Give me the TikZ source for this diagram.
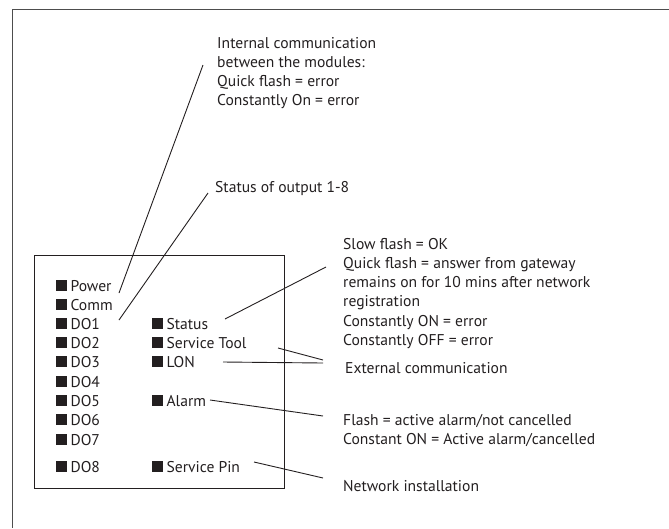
\documentclass[tikz,border=0pt]{standalone}
\usepackage{fontspec}
\setmainfont{PT Sans}
\definecolor{ink}{HTML}{231F20}
\definecolor{frame}{HTML}{4D4D4D}
\tikzset{
  lbl/.style={anchor=base west, inner sep=0pt, text=ink, align=left,
    font=\fontsize{15.6}{19.25}\selectfont},
  led/.style={lbl},
  conn/.style={draw=ink, line width=0.9pt},
}
\newcommand{\ledsq}{\rule{10.8pt}{10.8pt}\hspace{3.6pt}}
\begin{document}
\begin{tikzpicture}[x=1pt,y=-1pt]
\useasboundingbox (0,0) rectangle (669,528);
% outer frame (cropped)
\draw[frame, line width=1.5pt] (669,9.3) -- (12.7,9.3) -- (12.7,528);
% module box
\node[draw=ink, line width=1.2pt, minimum width=250pt, minimum height=233pt, inner sep=0pt, anchor=north west] (box) at (34,255) {};
% left column
\node[led] (power) at (56,291) {\ledsq Power};
\node[led] (comm) at (56,310) {\ledsq Comm};
\node[led] (do1) at (56,329) {\ledsq DO1};
\node[led] (do2) at (56,348) {\ledsq DO2};
\node[led] (do3) at (56,367) {\ledsq DO3};
\node[led] (do4) at (56,387) {\ledsq DO4};
\node[led] (do5) at (56,406) {\ledsq DO5};
\node[led] (do6) at (56,425) {\ledsq DO6};
\node[led] (do7) at (56,445) {\ledsq DO7};
\node[led] (do8) at (56,472) {\ledsq DO8};
% right column
\node[led] (status) at (152,329) {\ledsq Status};
\node[led] (stool) at (152,348) {\ledsq Service Tool};
\node[led] (lon) at (152,367) {\ledsq LON};
\node[led] (alarm) at (152,406) {\ledsq Alarm};
\node[led] (spin) at (152,472) {\ledsq Service Pin};
% descriptions (base anchor = last line)
\node[lbl] (intc) at (217,105.75) {Internal communication\\between the modules:\\Quick flash = error\\Constantly On = error};
\node[lbl] (outs) at (215,192) {Status of output 1-8};
\node[lbl] (stat) at (343,345.25) {Slow flash = OK\\Quick flash = answer from gateway\\remains on for 10 mins after network\\registration\\Constantly ON = error\\Constantly OFF = error};
\node[lbl] (ext) at (345,373) {External communication};
\node[lbl] (alm) at (343,444.5) {Flash = active alarm/not cancelled\\Constant ON = Active alarm/cancelled};
\node[lbl] (net) at (343,491) {Network installation};
% connectors
\draw[conn] ([shift={(63,2)}]power.base west) -- ([shift={(-14,-40.75)}]intc.base west);
\draw[conn] ([shift={(63,-9)}]do1.base west) -- ([shift={(-7,1)}]outs.base west);
\draw[conn] ([shift={(73,-10)}]status.base west) -- ([shift={(-17,-78.25)}]stat.base west);
\draw[conn] ([shift={(126,0)}]stool.base west) -- ([shift={(-22,-13)}]ext.base west);
\draw[conn] ([shift={(71,-5)}]lon.base west) -- ([shift={(-22,-10)}]ext.base west);
\draw[conn] ([shift={(58,-6)}]alarm.base west) -- ([shift={(-20,-28.5)}]alm.base west);
\draw[conn] ([shift={(102,-10)}]spin.base west) -- ([shift={(-20,-13)}]net.base west);
\end{tikzpicture}
\end{document}
